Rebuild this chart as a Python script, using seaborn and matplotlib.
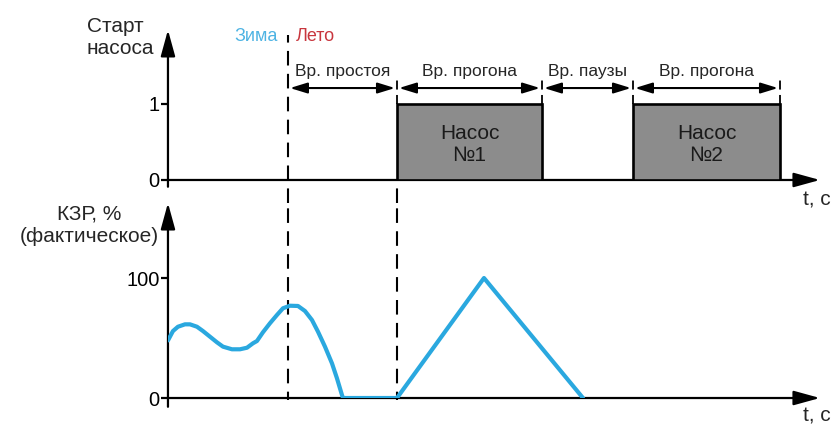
import numpy as np
import seaborn as sns
import matplotlib.pyplot as plt

# pump schedule (time in s)
season_switch = 12.0
phase_edges = [12.0, 22.9, 37.4, 46.5, 61.2]
phase_labels = ["Вр. простоя", "Вр. прогона", "Вр. паузы", "Вр. прогона"]
pump_starts = [22.9, 46.5]
pump_ends = [37.4, 61.2]
pump_labels = ["Насос\n№1", "Насос\n№2"]

# actual valve position, %
kzr_t = [0.0, 0.5, 1.0, 1.7, 2.2, 2.9, 3.5, 4.2, 4.9, 5.5, 6.4, 7.2, 7.9,
         8.5, 8.9, 9.5, 10.2, 10.9, 11.5, 12.2, 13.0, 13.7, 14.4, 15.0,
         15.7, 16.4, 16.9, 17.4, 17.5, 22.9, 31.6, 41.5]
kzr_val = [48, 55.8, 59.4, 61.4, 61.4, 59.4, 55.8, 51.1, 46.4, 42.8, 40.6,
           40.6, 41.9, 45.6, 47.5, 54.8, 62.3, 69.2, 74.8, 76.9, 76.7, 72.5,
           65, 55.3, 42.8, 28.9, 16.4, 2.5, 0, 0, 100, 0]

t_max = 65

sns.set_theme(style="white")
plt.rcParams["font.family"] = ["Liberation Sans", "DejaVu Sans"]

BLUE = "#2aa8df"
GRAY = "#8c8c8c"
LW = 1.6

fig = plt.figure(figsize=(8.34, 4.24), dpi=100)
ax_top = fig.add_axes([0.2014, 0.5755, 0.7794, 0.3538])
ax_bot = fig.add_axes([0.2014, 0.0613, 0.7794, 0.4599])

for ax in (ax_top, ax_bot):
    for s in ax.spines.values():
        s.set_visible(False)
    ax.set_xlim(0, t_max)
    ax.set_xticks([])
    ax.tick_params(axis="y", direction="out", length=5, width=LW, pad=1,
                   labelsize=14.5, left=True, colors="black")
    ax.patch.set_alpha(0)
    # axes with arrow heads
    arrow = dict(arrowstyle="-|>,head_length=0.8,head_width=0.22", lw=LW,
                 color="black", mutation_scale=20, shrinkA=0, shrinkB=0)
    ax.annotate("", xy=(1.003, 0), xytext=(0, 0), xycoords="axes fraction",
                arrowprops=arrow)
    ax.annotate("", xy=(0, 1.0), xytext=(0, -0.045), xycoords="axes fraction",
                arrowprops=arrow)

# top panel: pump start
ax_top.set_ylim(0, 1.974)
ax_top.set_yticks([0, 1])
ax_top.bar(pump_starts, 1, width=np.array(pump_ends) - np.array(pump_starts),
           align="edge", color=GRAY, edgecolor="black", linewidth=1.9, zorder=3)
for s, e, lab in zip(pump_starts, pump_ends, pump_labels):
    ax_top.text((s + e) / 2, 0.47, lab, ha="center", va="center", fontsize=15,
                color="#1a1a1a", zorder=4)

for x in phase_edges[1:]:
    ax_top.plot([x, x], [1.0, 1.32], color="black", lw=1.3, ls=(0, (5, 3)))
for a, b, lab in zip(phase_edges[:-1], phase_edges[1:], phase_labels):
    ax_top.annotate("", xy=(b - 0.2, 1.21), xytext=(a + 0.2, 1.21),
                    arrowprops=dict(arrowstyle="<|-|>,head_length=0.65,head_width=0.2",
                                    lw=1.5, color="black", mutation_scale=16,
                                    shrinkA=0, shrinkB=0))
    ax_top.text((a + b) / 2, 1.43, lab, ha="center", va="center", fontsize=12.5)

# season switch and first pump start dashed markers
ax_top.axvline(season_switch, ymin=-0.155, ymax=0.967, color="black", lw=1.5,
               ls=(0, (7, 4)), clip_on=False)
ax_top.axvline(pump_starts[0], ymin=-0.155, ymax=0.0, color="black", lw=1.5,
               ls=(0, (7, 4)), clip_on=False)
ax_bot.axvline(season_switch, ymin=-0.01, ymax=1.0, color="black", lw=1.5,
               ls=(3, (7, 4)), clip_on=False)
ax_bot.axvline(pump_starts[0], ymin=-0.01, ymax=1.0, color="black", lw=1.5,
               ls=(3, (7, 4)), clip_on=False)

ax_top.text(season_switch - 1.0, 1.89, "Зима", ha="right", va="center",
            fontsize=13, color="#4db3e3")
ax_top.text(season_switch + 0.8, 1.89, "Лето", ha="left", va="center",
            fontsize=13, color="#c8363e")

ax_top.text(-0.125, 0.95, "Старт\nнасоса", transform=ax_top.transAxes,
            ha="left", va="center", fontsize=15)
ax_top.text(0.977, -0.135, "t, c", transform=ax_top.transAxes,
            ha="left", va="center", fontsize=15)

# bottom panel: valve position
ax_bot.set_ylim(0, 162.5)
ax_bot.set_yticks([0, 100])
sns.lineplot(x=kzr_t, y=kzr_val, ax=ax_bot, color=BLUE, lw=3,
             solid_joinstyle="round", solid_capstyle="round", zorder=3)

ax_bot.text(-0.1215, 0.887, "КЗР, %\n(фактическое)", transform=ax_bot.transAxes,
            ha="center", va="center", fontsize=15, multialignment="center")
ax_bot.text(0.977, -0.09, "t, c", transform=ax_bot.transAxes,
            ha="left", va="center", fontsize=15)

fig.savefig("out.png", dpi=100)
